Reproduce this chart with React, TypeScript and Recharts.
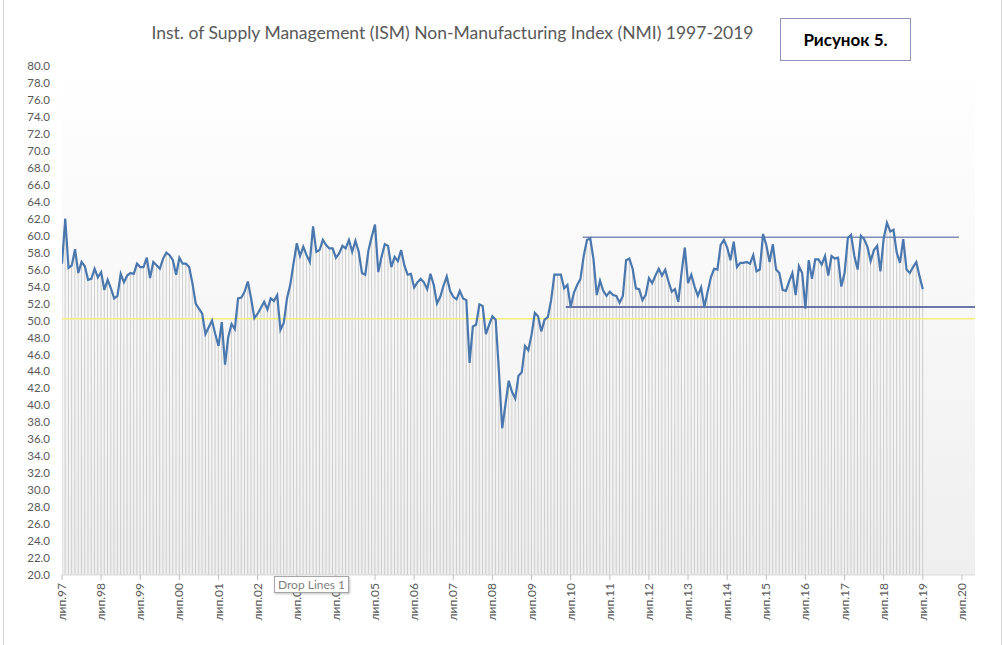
import React from "react";
import {
  ComposedChart,
  Line,
  Bar,
  XAxis,
  YAxis,
  CartesianGrid,
  ReferenceLine,
} from "recharts";

// ISM NMI, monthly, лип.97 .. лип.19
const nmiValues = [
  56.7, 62.0, 56.2, 56.5, 58.4, 55.6, 56.9, 56.4, 54.8, 54.9, 56.1, 55.1,
  55.7, 53.6, 54.8, 53.8, 52.6, 52.9, 55.5, 54.5, 55.3, 55.6, 55.5, 56.7,
  56.3, 56.3, 57.4, 55.0, 56.9, 56.5, 56.1, 57.3, 58.0, 57.7, 57.1, 55.4,
  57.4, 56.7, 56.7, 56.3, 54.4, 52.0, 51.4, 50.8, 48.4, 49.2, 50.0, 48.4,
  47.0, 49.8, 44.8, 48.1, 49.6, 49.0, 52.6, 52.7, 53.4, 54.6, 52.6, 50.3,
  50.8, 51.5, 52.2, 51.3, 52.6, 52.3, 53.0, 48.9, 49.7, 52.6, 54.2, 56.7,
  59.1, 57.6, 58.7, 57.7, 56.9, 61.1, 58.1, 58.3, 59.5, 58.9, 58.5, 58.5,
  57.4, 57.9, 58.8, 58.5, 59.5, 58.1, 59.4, 58.1, 55.6, 55.4, 58.3, 59.9,
  61.3, 55.7, 57.5, 59.0, 58.8, 56.3, 57.5, 57.0, 58.3, 56.5, 55.4, 55.5,
  53.9, 54.5, 54.9, 54.5, 53.7, 55.5, 54.2, 52.0, 52.8, 54.1, 55.2, 53.5,
  52.8, 52.5, 53.5, 52.6, 52.4, 45.0, 49.3, 49.5, 51.9, 51.7, 48.4, 49.5,
  50.5, 50.1, 44.0, 37.3, 40.1, 42.9, 41.6, 40.8, 43.5, 43.9, 47.0, 46.5,
  48.3, 50.9, 50.5, 48.7, 50.1, 50.4, 52.4, 55.4, 55.4, 55.4, 53.8, 54.2,
  51.6, 53.3, 54.2, 54.9, 57.6, 59.5, 59.7, 57.2, 53.0, 54.7, 53.5, 52.9,
  53.4, 53.0, 52.9, 52.1, 52.9, 57.1, 57.3, 56.1, 53.8, 53.7, 52.4, 53.0,
  55.0, 54.4, 55.3, 56.1, 55.3, 56.0, 54.6, 53.4, 53.7, 52.2, 55.6, 58.6,
  54.4, 55.4, 54.0, 52.9, 53.9, 51.6, 53.4, 55.1, 56.1, 56.0, 58.9, 59.5,
  58.6, 57.1, 59.3, 56.3, 56.8, 56.8, 56.9, 56.7, 57.7, 55.8, 56.0, 60.2,
  58.9, 56.9, 59.0, 56.0, 55.6, 53.6, 53.5, 54.6, 55.6, 53.0, 56.4, 55.6,
  51.4, 57.1, 54.9, 57.2, 57.2, 56.6, 57.6, 55.3, 57.6, 57.3, 57.4, 54.0,
  55.6, 59.7, 60.1, 57.6, 56.0, 60.0, 59.6, 58.7, 57.0, 58.3, 58.8, 55.8,
  59.7, 61.5, 60.5, 60.7, 58.0, 56.8, 59.6, 56.0, 55.6, 56.3, 56.9, 55.2,
  53.7,
];

// x tick labels, one per July
const julyLabels = [
  "лип.97", "лип.98", "лип.99", "лип.00", "лип.01", "лип.02", "лип.03", "лип.04",
  "лип.05", "лип.06", "лип.07", "лип.08", "лип.09", "лип.10", "лип.11", "лип.12",
  "лип.13", "лип.14", "лип.15", "лип.16", "лип.17", "лип.18", "лип.19", "лип.20",
];

const yTicks = [
  20, 22, 24, 26, 28, 30, 32, 34, 36, 38, 40, 42, 44, 46, 48, 50,
  52, 54, 56, 58, 60, 62, 64, 66, 68, 70, 72, 74, 76, 78, 80,
];

// hand-drawn range lines (month index, value)
const upperBand = { from: 159.7, to: 275.1, value: 59.8 };
const lowerBand = { from: 154.5, to: 280, value: 51.6 };
const neutralLevel = 50.2;

const chartData = nmiValues.map((v, i) => ({ m: i, v }));
const xTicks = julyLabels.map((_, i) => i * 12);

const FONT = "Lato, 'Open Sans', sans-serif";

const MonthTick = (props: any) => {
  const { x, y, payload } = props;
  const label = julyLabels[Math.round(payload.value / 12)];
  return (
    <g transform={`translate(${x},${y})`}>
      <text
        transform="rotate(-90)"
        textAnchor="end"
        dy={4}
        fontSize={12}
        fill="#595959"
        fontFamily={FONT}
      >
        {label}
      </text>
    </g>
  );
};

export default function App() {
  return (
    <div
      style={{
        position: "fixed",
        left: 0,
        top: 0,
        width: 1003,
        height: 645,
        background: "#ffffff",
        overflow: "hidden",
        fontFamily: FONT,
      }}
    >
      {/* spreadsheet edge lines */}
      <div style={{ position: "absolute", left: 3, top: 0, width: 1, height: 645, background: "#d9d9d9" }} />
      <div style={{ position: "absolute", left: 1001, top: 0, width: 1, height: 645, background: "#d9d9d9" }} />

      <ComposedChart
        width={1003}
        height={645}
        data={chartData}
        margin={{ top: 66, right: 28, bottom: 10, left: 12 }}
        style={{ position: "absolute", left: 0, top: 0 }}
      >
        <defs>
          <linearGradient id="plotBg" x1="0" y1="0" x2="0" y2="1">
            <stop offset="0%" stopColor="#ffffff" />
            <stop offset="100%" stopColor="#efefef" />
          </linearGradient>
        </defs>
        <CartesianGrid horizontal={false} vertical={false} fill="url(#plotBg)" stroke="none" />
        <XAxis
          type="number"
          dataKey="m"
          domain={[0, 280]}
          ticks={xTicks}
          interval={0}
          height={60}
          tick={<MonthTick />}
          axisLine={{ stroke: "#d9d9d9" }}
          tickLine={{ stroke: "#bfbfbf" }}
          tickSize={5}
          tickMargin={3}
          allowDataOverflow
        />
        <YAxis
          type="number"
          domain={[20, 80]}
          ticks={yTicks}
          interval={0}
          width={50}
          axisLine={false}
          tickLine={false}
          tickMargin={6}
          tickFormatter={(v: number) => v.toFixed(1)}
          tick={{ fontSize: 11.5, fill: "#595959", fontFamily: FONT }}
          allowDataOverflow
        />
        {/* drop lines */}
        <Bar dataKey="v" barSize={1} fill="#cdcdcd" isAnimationActive={false} />
        <ReferenceLine y={neutralLevel} stroke="#f5f07a" strokeWidth={1.5} />
        <ReferenceLine
          segment={[
            { x: upperBand.from, y: upperBand.value },
            { x: upperBand.to, y: upperBand.value },
          ]}
          stroke="#7f8db8"
          strokeWidth={1.5}
        />
        <ReferenceLine
          segment={[
            { x: lowerBand.from, y: lowerBand.value },
            { x: lowerBand.to, y: lowerBand.value },
          ]}
          stroke="#3f4d92"
          strokeWidth={1.5}
        />
        <Line
          type="linear"
          dataKey="v"
          stroke="#4a77ad"
          strokeWidth={2.2}
          dot={false}
          isAnimationActive={false}
        />
      </ComposedChart>

      <div
        style={{
          position: "absolute",
          left: 0,
          width: 905,
          top: 22,
          textAlign: "center",
          fontSize: 17.5,
          color: "#595959",
          whiteSpace: "nowrap",
        }}
      >
        Inst. of Supply Management (ISM) Non-Manufacturing Index (NMI) 1997-2019
      </div>

      <div
        style={{
          position: "absolute",
          left: 780,
          top: 18,
          width: 129,
          height: 41,
          border: "1.5px solid #8e93b8",
          display: "flex",
          alignItems: "center",
          justifyContent: "center",
          fontSize: 17,
          fontWeight: 700,
          color: "#000000",
        }}
      >
        Рисунок 5.
      </div>

      <div
        style={{
          position: "absolute",
          left: 274,
          top: 576,
          height: 15,
          padding: "0 3px",
          border: "1px solid #a6a6a6",
          background: "#ffffff",
          boxShadow: "1px 1px 2px rgba(0,0,0,0.25)",
          fontSize: 12,
          lineHeight: "15px",
          color: "#7f7f7f",
          whiteSpace: "nowrap",
        }}
      >
        Drop Lines 1
      </div>
    </div>
  );
}
